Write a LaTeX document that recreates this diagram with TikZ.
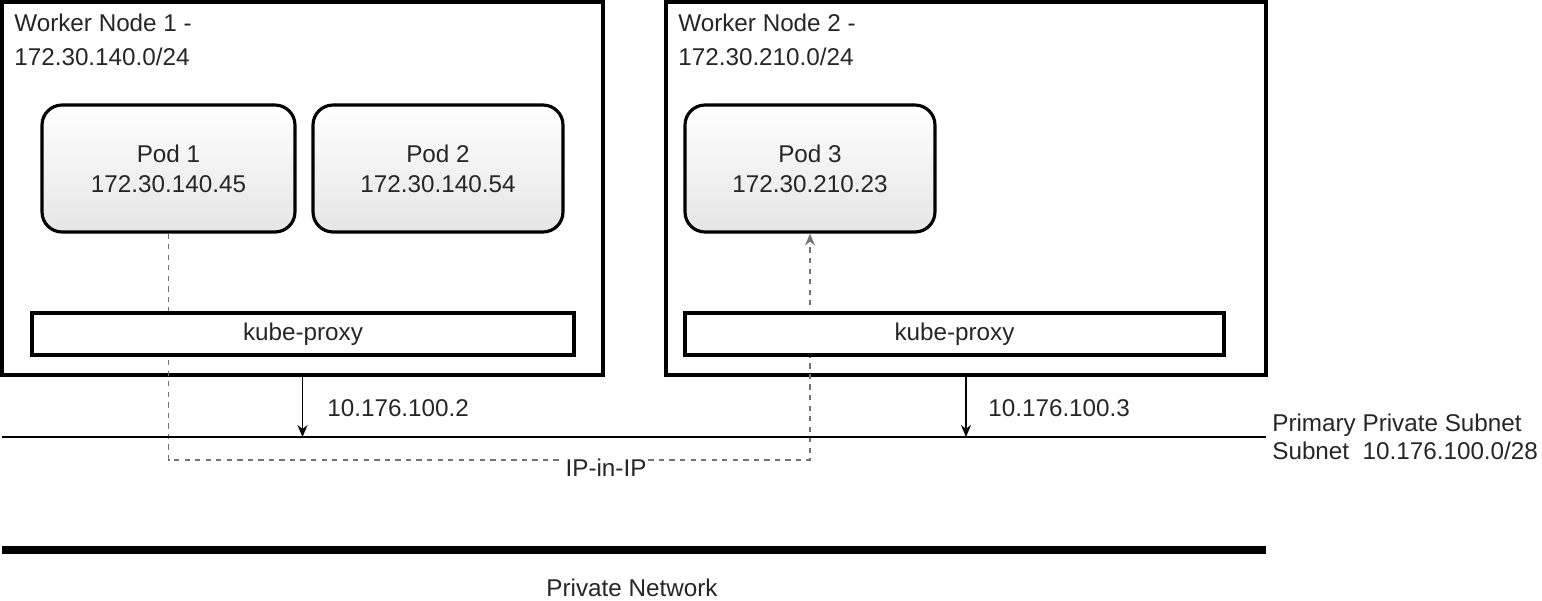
\documentclass[tikz,border=0pt]{standalone}
\usepackage{fontspec}
\setmainfont{Liberation Sans}
\usetikzlibrary{arrows.meta}

\begin{document}
\begin{tikzpicture}[x=0.02cm, y=-0.02cm, font=\fontsize{13.8}{17}\selectfont, text=black!85,
	-{Stealth[length=2.4mm,width=2mm]},
	worker/.style={draw, line width=2.2pt, minimum height=7.46cm, inner sep=0},
	pod/.style={draw, line width=1.8pt, rounded corners=0.4cm, top color=white, bottom color=gray!20, minimum width=5cm, minimum height=2.54cm, align=center},
	proxy/.style={draw, line width=1.8pt, fill=white, minimum height=0.84cm},
	addr/.style={anchor=west, inner sep=0},
	title/.style={anchor=north west, inner sep=0, align=left, font=\fontsize{13.8}{19}\selectfont}]
	\useasboundingbox (0,0) rectangle (1542,600);
	\node[worker, minimum width=12.02cm] (wn1) at (302.5,188.5) {};
	\node[worker, minimum width=12cm] (wn2) at (966,188.5) {};
	\node[title] (wn1title) at (14,14) {Worker Node 1 -\\172.30.140.0/24};
	\node[title] (wn2title) at (678,14) {Worker Node 2 -\\172.30.210.0/24};
	\node[pod, minimum width=5.06cm] (pod1) at (168.5,168.5) {Pod 1\\172.30.140.45};
	\node[pod] (pod2) at (438,168.5) {Pod 2\\172.30.140.54};
	\node[pod] (pod3) at (810,168.5) {Pod 3\\172.30.210.23};
	\coordinate (tunL) at (168.5,460);
	\draw[dashed, gray!90!black, line width=0.8pt] (pod1.south) -- (tunL) -| (pod3.south);
	\node[proxy, minimum width=10.84cm] (kp1) at (303,334) {kube-proxy};
	\node[proxy, minimum width=10.78cm] (kp2) at (954.5,334) {kube-proxy};
	\node[fill=white, inner sep=1pt] (tun) at (606,468) {IP-in-IP};
	\coordinate (snW) at (2,437);
	\coordinate (snE) at (1266,437);
	\draw[-, line width=1.1pt] (snW) -- (snE);
	\draw[line width=0.6pt] (wn1.south) -- (wn1.south |- snW);
	\draw[line width=0.6pt] (wn2.south) -- (wn2.south |- snW);
	\node[addr] (ip1) at (327,408) {10.176.100.2};
	\node[addr] (ip2) at (988,408) {10.176.100.3};
	\node[addr, align=left, font=\fontsize{13.8}{16}\selectfont] (subnet) at (1272,437) {Primary Private Subnet\\Subnet\ \ 10.176.100.0/28};
	\coordinate (pnW) at (2,550);
	\coordinate (pnE) at (1266,550);
	\draw[-, line width=4.4pt] (pnW) -- (pnE);
	\node (pnet) at (632,588) {Private Network};
\end{tikzpicture}
\end{document}
